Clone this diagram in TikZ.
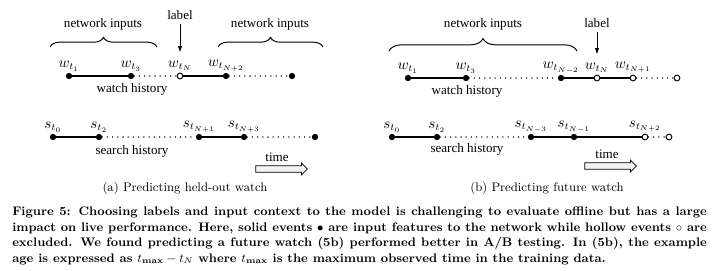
\documentclass[tikz,border=0pt]{standalone}
\usepackage{amsmath}
\usepackage{fontspec}
\newfontfamily\figfont{Liberation Serif}
\usepackage{tikz}
\usetikzlibrary{arrows.meta,shapes.arrows,decorations.pathreplacing}

\begin{document}
\begin{tikzpicture}[x=0.727pt, y=-0.727pt,
    every node/.style={font=\figfont\fontsize{9.5}{11}\selectfont},
    solidev/.style={circle, fill=black, draw=black, line width=0.5pt,
        minimum size=4pt, inner sep=0pt},
    hollowev/.style={circle, fill=white, draw=black, line width=0.7pt,
        minimum size=4.2pt, inner sep=0pt},
    evlbl/.style={font=\fontsize{10.5}{12}\selectfont, inner sep=1pt},
    link/.style={line width=1pt},
    gap/.style={line width=1.1pt, dash pattern=on 0pt off 3.8pt,
        line cap=round},
    inbrace/.style={decorate, decoration={brace, amplitude=#1},
        line width=0.7pt},
    labarrow/.style={-{Latex[length=4.5pt, width=3.2pt]}, line width=0.6pt},
    timearrow/.style={single arrow, draw=black, fill=gray!10,
        line width=0.5pt, minimum height=37.5pt, minimum width=8.4pt,
        single arrow head extend=2pt, inner sep=2.1pt},
    subcap/.style={font=\normalfont\fontsize{9}{11}\selectfont}
]
\useasboundingbox (0,0) rectangle (720,270);

% (a) held-out watch
\node (anet1) at (103,24) {network inputs};
\draw[inbrace=7pt] (50,47) -- (157,47);
\node (anet2) at (270,24) {network inputs};
\draw[inbrace=7pt] (218,47) -- (323,47);

\node[solidev,  label={[evlbl]above:$w_{t_1}$}] (aw1) at (69,76) {};
\node[solidev,  label={[evlbl]above:$w_{t_3}$}] (aw3) at (131,76) {};
\node[hollowev, label={[evlbl, name=awNl]above:$w_{t_N}$}] (awN) at (180,76) {};
\node[solidev,  label={[evlbl]above:$w_{t_{N+2}}$}] (awN2) at (226,76) {};
\node[solidev] (awE) at (292,76) {};
\draw[link] (aw1) -- (aw3);
\draw[gap]  (aw3) -- (awN);
\draw[link] (awN) -- (awN2);
\draw[gap]  (awN2) -- (awE);
\node (awh) at (132,89) {watch history};

\node (alabel) at (180,15) {label};
\draw[labarrow] (alabel) -- ([yshift=5pt]awNl.north);

\node[solidev, label={[evlbl]above:$s_{t_0}$}] (as0) at (53,137) {};
\node[solidev, label={[evlbl]above:$s_{t_2}$}] (as2) at (99,137) {};
\node[solidev, label={[evlbl]above:$s_{t_{N+1}}$}] (asN1) at (199,137) {};
\node[solidev, label={[evlbl]above:$s_{t_{N+3}}$}] (asN3) at (244,137) {};
\node[solidev] (asE) at (315,137) {};
\draw[link] (as0) -- (as2);
\draw[gap]  (as2) -- (asN1);
\draw[link] (asN1) -- (asN3);
\draw[gap]  (asN3) -- (asE);
\node (ash) at (132,151) {search history};

\node (atime) at (277,157) {time};
\node[timearrow] (aarr) at (280,169) {};
\node[subcap] (acap) at (185,188) {(a) Predicting held-out watch};

% (b) future watch
\node (bnet) at (483,24) {network inputs};
\draw[inbrace=9pt] (389,51) -- (577,51);

\node[solidev,  label={[evlbl]above:$w_{t_1}$}] (bw1) at (408,78) {};
\node[solidev,  label={[evlbl]above:$w_{t_3}$}] (bw3) at (466,78) {};
\node[solidev,  label={[evlbl]above:$w_{t_{N-2}}$}] (bwN2) at (561,78) {};
\node[hollowev, label={[evlbl, name=bwNl]above:$w_{t_N}$}] (bwN) at (597,78) {};
\node[hollowev, label={[evlbl]above:$w_{t_{N+1}}$}] (bwN1) at (633,78) {};
\node[hollowev] (bwE) at (677,78) {};
\draw[link] (bw1) -- (bw3);
\draw[gap]  (bw3) -- (bwN2);
\draw[link] (bwN2) -- (bwN);
\draw[link] (bwN) -- (bwN1);
\draw[gap]  (bwN1) -- (bwE);
\node (bwh) at (467,91) {watch history};

\node (blabel) at (597,23) {label};
\draw[labarrow] (blabel) -- ([yshift=5pt]bwNl.north);

\node[solidev, label={[evlbl]above:$s_{t_0}$}] (bs0) at (392,137) {};
\node[solidev, label={[evlbl]above:$s_{t_2}$}] (bs2) at (437,137) {};
\node[solidev, label={[evlbl]above:$s_{t_{N-3}}$}] (bsN3) at (531,137) {};
\node[solidev, label={[evlbl]above:$s_{t_{N-1}}$}] (bsN1) at (574,137) {};
\node[hollowev, label={[evlbl]above:$s_{t_{N+2}}$}] (bsN2) at (645,137) {};
\node[hollowev] (bsE) at (669,137) {};
\draw[link] (bs0) -- (bs2);
\draw[gap]  (bs2) -- (bsN3);
\draw[link] (bsN3) -- (bsN1);
\draw[link] (bsN1) -- (bsN2);
\draw[gap]  (bsN2) -- (bsE);
\node (bsh) at (467,149) {search history};

\node (btime) at (607,154) {time};
\node[timearrow] (barr) at (609,166) {};
\node[subcap] (bcap) at (547,188) {(b) Predicting future watch};

% caption
\node[anchor=north west, inner sep=0pt, text width=505pt, align=justify,
      font=\normalfont\bfseries\fontsize{9}{11.2}\selectfont] (figcap) at (12,207)
  {Figure 5: Choosing labels and input context to the model is challenging to
   evaluate offline but has a large\linebreak impact on live performance. Here,
   solid events $\bullet$ are input features to the network while hollow events
   $\circ$ are\linebreak excluded. We found predicting a future watch (5b)
   performed better in A/B testing. In (5b), the example\linebreak age is
   expressed as $t_{\text{max}}-t_N$ where $t_{\text{max}}$ is the maximum
   observed time in the training data.};
\end{tikzpicture}
\end{document}
